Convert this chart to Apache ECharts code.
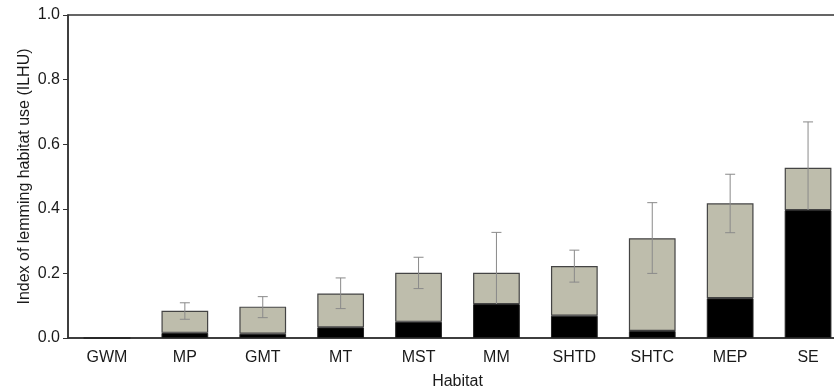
<!DOCTYPE html>
<html>
<head>
<meta charset="utf-8">
<script src="https://cdn.jsdelivr.net/npm/echarts@6/dist/echarts.min.js"></script>
<style>
  html, body { margin: 0; padding: 0; background: #fff; }
  #main { width: 834px; height: 391px; }
</style>
</head>
<body>
<div id="main"></div>
<script>
var chartDom = document.getElementById('main');
var myChart = echarts.init(chartDom);

const habitats = ['GWM', 'MP', 'GMT', 'MT', 'MST', 'MM', 'SHTD', 'SHTC', 'MEP', 'SE'];
// lower (black) part of each bar
const blackPart = [0, 0.016, 0.013, 0.033, 0.050, 0.105, 0.069, 0.022, 0.123, 0.396];
// upper (grey) part stacked on top
const greyPart = [0, 0.068, 0.084, 0.105, 0.152, 0.097, 0.154, 0.287, 0.294, 0.131];
// error bar ends
const errLow = [0, 0.058, 0.063, 0.091, 0.153, 0.077, 0.173, 0.200, 0.326, 0.385];
const errHigh = [0, 0.109, 0.128, 0.186, 0.250, 0.327, 0.272, 0.419, 0.507, 0.669];
const yTicks = [0, 0.2, 0.4, 0.6, 0.8, 1.0];

const errData = habitats.map((h, i) => [i, errLow[i], errHigh[i]]);

const font = { fontFamily: 'Liberation Sans', fontSize: 16, color: '#1a1a1a' };

var option = {
    animation: false,
    grid: {
        left: 68,
        right: -13,
        top: 15,
        bottom: 53,
        show: true,
        borderColor: '#333',
        borderWidth: 1.5,
        outerBoundsMode: 'none'
    },
    xAxis: {
        type: 'category',
        data: habitats,
        name: 'Habitat',
        nameLocation: 'middle',
        nameGap: 36,
        nameTextStyle: font,
        axisLine: { lineStyle: { color: '#333', width: 1.5 } },
        axisTick: { alignWithLabel: true, length: 5, lineStyle: { color: '#333' } },
        axisLabel: Object.assign({ margin: 12 }, font)
    },
    yAxis: {
        type: 'value',
        min: 0,
        max: 1.0,
        interval: 0.2,
        name: 'Index of lemming habitat use (ILHU)',
        nameLocation: 'middle',
        nameGap: 35,
        nameMoveOverlap: false,
        nameTextStyle: font,
        splitLine: { show: false },
        axisLine: { show: true, lineStyle: { color: '#333', width: 1.5 } },
        axisTick: { show: true, length: 5, lineStyle: { color: '#333' } },
        axisLabel: Object.assign({
            margin: 8,
            formatter: (v) => yTicks.indexOf(Math.round(v * 10) / 10) >= 0 ? v.toFixed(1) : ''
        }, font)
    },
    series: [
        {
            name: 'black',
            type: 'bar',
            stack: 'total',
            barWidth: '60%',
            z: 4,
            itemStyle: { color: '#000', borderColor: '#222', borderWidth: 1 },
            data: blackPart
        },
        {
            name: 'grey',
            type: 'bar',
            stack: 'total',
            barWidth: '60%',
            z: 2,
            itemStyle: { color: '#bebdac', borderColor: '#444', borderWidth: 1.2 },
            data: greyPart
        },
        {
            // error bars sit above grey but under black
            name: 'error',
            type: 'custom',
            z: 3,
            data: errData,
            renderItem: function (params, api) {
                if (api.value(2) <= 0) return null;
                var x = api.value(0);
                var lo = api.coord([x, api.value(1)]);
                var hi = api.coord([x, api.value(2)]);
                var cap = 5;
                var style = { stroke: '#8a8a8a', lineWidth: 1 };
                return {
                    type: 'group',
                    children: [
                        { type: 'line', shape: { x1: hi[0], y1: hi[1], x2: lo[0], y2: lo[1] }, style: style },
                        { type: 'line', shape: { x1: hi[0] - cap, y1: hi[1], x2: hi[0] + cap, y2: hi[1] }, style: style },
                        { type: 'line', shape: { x1: lo[0] - cap, y1: lo[1], x2: lo[0] + cap, y2: lo[1] }, style: style }
                    ]
                };
            }
        }
    ]
};

myChart.setOption(option);
</script>
</body>
</html>
